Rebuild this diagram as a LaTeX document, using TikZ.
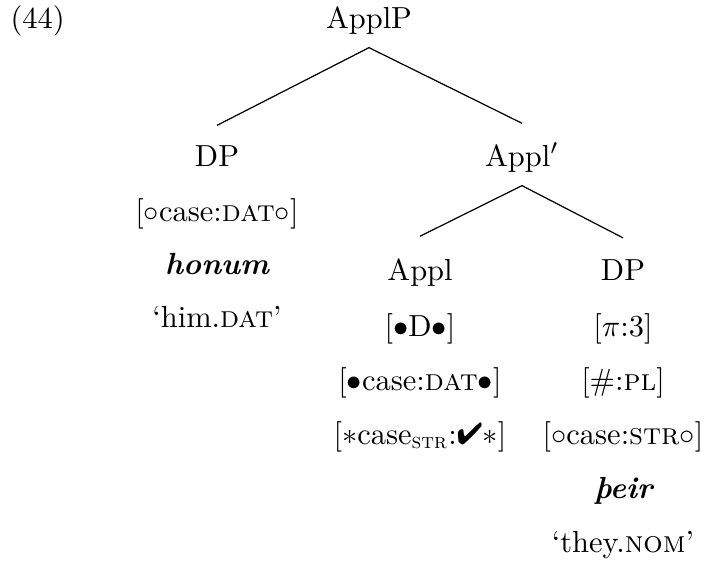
\documentclass[tikz,border=0pt]{standalone}
\usepackage{fontspec}
\usepackage{pifont}
\newcommand{\fsep}{$\bullet$}
\newcommand{\osep}{$\circ$}
\begin{document}
\begin{tikzpicture}[
    x=0.328pt, y=-0.328pt,
    cat/.style={anchor=base, inner sep=0pt},
    feat/.style={anchor=base, inner sep=0pt},
    word/.style={anchor=base, inner sep=0pt, font=\bfseries\itshape}
]
\useasboundingbox (0,0) rectangle (704,575);

% example number
\node[anchor=base west, inner sep=0pt] (exno) at (10,28) {(44)};

% tree
\node[cat] (applp) at (369,28) {ApplP};
\node[cat] (dpa) at (217,166) {DP};
\node[cat] (applbar) at (522,166) {Appl$'$};
\node[cat] (appl) at (420,280) {Appl};
\node[cat] (dpb) at (623,280) {DP};

% left DP
\node[feat] (dpa1) at (217,221) {[\osep case:\textsc{dat}\osep]};
\node[word] (dpa2) at (217,274) {honum};
\node[feat] (dpa3) at (217,327) {`him.\textsc{dat}'};

% Appl head
\node[feat] (appl1) at (420,336) {[\fsep D\fsep]};
\node[feat] (appl2) at (420,390) {[\fsep case:\textsc{dat}\fsep]};
\node[feat] (appl3) at (420,444) {[$*$case\textsubscript{\textsc{str}}:\ding{52}$*$]};

% right DP
\node[feat] (dpb1) at (623,336) {[$\pi$:3]};
\node[feat] (dpb2) at (623,390) {[\#:\textsc{pl}]};
\node[feat] (dpb3) at (623,444) {[\osep case:\textsc{str}\osep]};
\node[word] (dpb4) at (623,498) {þeir};
\node[feat] (dpb5) at (623,552) {`they.\textsc{nom}'};

% branches
\draw ([yshift=-4.3pt]applp.south) -- ([yshift=6.3pt]dpa.north);
\draw ([yshift=-4.3pt]applp.south) -- ([yshift=6.3pt]applbar.north);
\draw ([yshift=-4.3pt]applbar.south) -- ([yshift=7pt]appl.north);
\draw ([yshift=-4.3pt]applbar.south) -- ([yshift=6.8pt]dpb.north);

\end{tikzpicture}
\end{document}
